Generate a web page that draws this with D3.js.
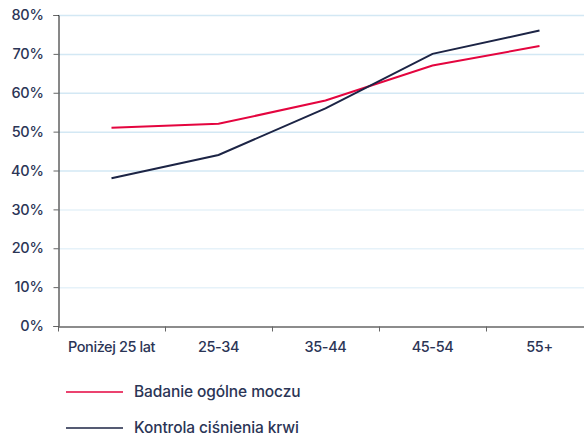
<!DOCTYPE html>
<html><head><meta charset="utf-8">
<script src="https://cdn.jsdelivr.net/npm/d3@7"></script>
<style>body{margin:0;background:#fff}svg{display:block}</style>
</head><body>
<svg id="c" width="584" height="436"></svg>
<script>
const categories = ["Poniżej 25 lat","25-34","35-44","45-54","55+"];
const badanie = [51,52,58,67,72];
const kontrola = [38,44,56,70,76];
const yTicks = [0,10,20,30,40,50,60,70,80];
const seriesNames = ["Badanie ogólne moczu","Kontrola ciśnienia krwi"];
const seriesColors = ["#e4053f","#1c2445"];

const svg = d3.select("#c");
const font = "Inter, 'Noto Sans', sans-serif";
const textColor = "#2b3556";
const x = d3.scaleBand().domain(categories).range([58, 593]);
const y = d3.scaleLinear().domain([0,80]).range([326, 15]);

// gridlines
svg.append("g").selectAll("line").data(yTicks.filter(d=>d>0)).join("line")
  .attr("x1",58).attr("x2",584).attr("y1",d=>y(d)+0.5).attr("y2",d=>y(d)+0.5)
  .attr("stroke",d=> d>=40 ? "#d3e8f4" : "#e6f2f9").attr("stroke-width",1.5);

// y axis
const ya = svg.append("g").attr("transform","translate(58.5,0)")
  .call(d3.axisLeft(y).tickValues(yTicks).tickFormat(d=>d+"%").tickSize(5).tickPadding(10));
ya.select(".domain").attr("stroke","#111");
ya.selectAll(".tick line").attr("stroke","#666");
ya.selectAll("text").attr("font-family",font).attr("font-size",14.5).attr("font-weight",500)
  .attr("letter-spacing","-0.3px").attr("fill",textColor);

// x axis
const xa = svg.append("g").attr("transform","translate(0,326.5)")
  .call(d3.axisBottom(x).tickSize(0).tickPadding(15));
xa.select(".domain").attr("stroke","#666").attr("stroke-width",1.3);
xa.selectAll("text").attr("font-family",font).attr("font-size",14.5).attr("font-weight",500)
  .attr("letter-spacing","-0.4px").attr("fill",textColor);
xa.append("g").selectAll("line").data(categories).join("line")
  .attr("x1",d=>Math.round(x(d))+0.5).attr("x2",d=>Math.round(x(d))+0.5)
  .attr("y1",0).attr("y2",5).attr("stroke","#666");

// lines
const line = d3.line().x((d,i)=>x(categories[i])+x.bandwidth()/2).y(d=>y(d));
[badanie,kontrola].forEach((s,i)=>{
  svg.append("path").datum(s).attr("d",line).attr("fill","none")
    .attr("stroke",seriesColors[i]).attr("stroke-width",2);
});

// legend
const lg = svg.append("g");
seriesNames.forEach((n,i)=>{
  const yy = 392 + i*36;
  lg.append("line").attr("x1",66).attr("x2",123).attr("y1",yy).attr("y2",yy)
    .attr("stroke",seriesColors[i]).attr("stroke-width",1.5);
  lg.append("text").attr("x",134).attr("y",yy).attr("dy","0.35em")
    .attr("font-family",font).attr("font-size",15.5).attr("font-weight",500).attr("letter-spacing","-0.1px")
    .attr("fill",textColor).text(n);
});
</script>
</body></html>
